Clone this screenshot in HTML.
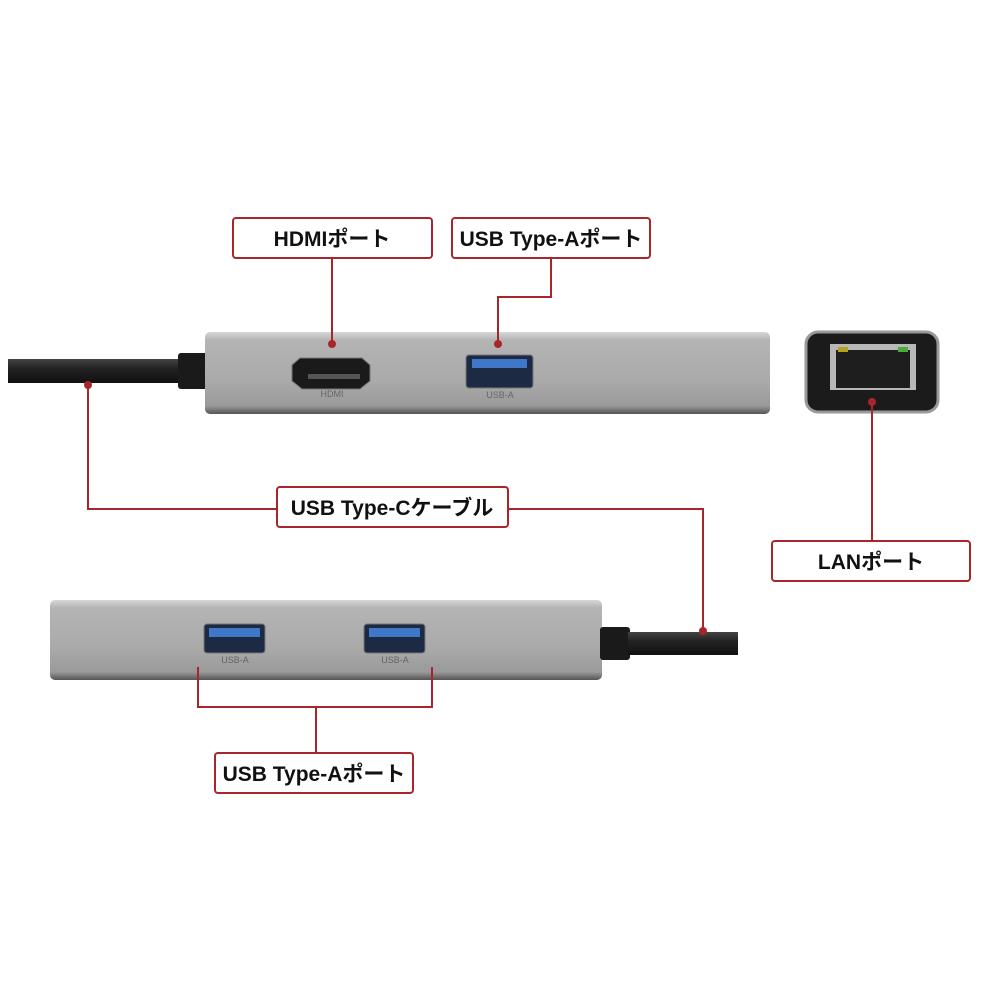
<!DOCTYPE html>
<html><head><meta charset="utf-8"><style>
html,body{margin:0;padding:0;background:#fff;width:1000px;height:1000px;overflow:hidden}
svg{display:block}
.lb{font-family:"Liberation Sans","Noto Sans CJK JP",sans-serif;font-weight:bold;font-size:21px;fill:#111}
.sm{font-family:"Liberation Sans",sans-serif;font-size:9px;fill:#666}
</style></head><body>
<svg width="1000" height="1000" viewBox="0 0 1000 1000">
<defs>
<linearGradient id="hub" x1="0" y1="0" x2="0" y2="1">
<stop offset="0" stop-color="#d6d6d6"/><stop offset="0.1" stop-color="#b4b4b4"/><stop offset="0.6" stop-color="#aaaaaa"/><stop offset="0.9" stop-color="#9a9a9a"/><stop offset="1" stop-color="#555"/>
</linearGradient>
<linearGradient id="cab" x1="0" y1="0" x2="0" y2="1">
<stop offset="0" stop-color="#444"/><stop offset="0.4" stop-color="#222"/><stop offset="1" stop-color="#111"/>
</linearGradient>
</defs>
<g fill="none" stroke="#a8262b" stroke-width="2">
<rect x="233" y="218" width="199" height="40" rx="3"/>
<rect x="452" y="218" width="198" height="40" rx="3"/>
<rect x="277" y="487" width="231" height="40" rx="3"/>
<rect x="772" y="541" width="198" height="40" rx="3"/>
<rect x="215" y="753" width="198" height="40" rx="3"/>
</g>
<text class="lb" x="332" y="246" text-anchor="middle">HDMIポート</text>
<text class="lb" x="551" y="246" text-anchor="middle">USB Type-Aポート</text>
<text class="lb" x="392" y="515" text-anchor="middle">USB Type-Cケーブル</text>
<text class="lb" x="871" y="569" text-anchor="middle">LANポート</text>
<text class="lb" x="314" y="781" text-anchor="middle">USB Type-Aポート</text>

<!-- top cable -->
<rect x="8" y="359" width="175" height="24" fill="url(#cab)"/>
<rect x="178" y="353" width="30" height="36" rx="3" fill="#1a1a1a"/>
<!-- top hub -->
<rect x="205" y="332" width="565" height="82" rx="5" fill="url(#hub)"/>
<path d="M300 358h62l8 7v16l-10 8h-58l-10-8v-16z" fill="#1a1a1a" stroke="#777"/>
<rect x="308" y="374" width="52" height="5" fill="#555"/>
<text class="sm" x="332" y="397" text-anchor="middle">HDMI</text>
<rect x="466" y="355" width="67" height="33" rx="3" fill="#1c2a44" stroke="#777"/>
<rect x="472" y="359" width="55" height="9" fill="#3f78c8"/>
<text class="sm" x="500" y="398" text-anchor="middle">USB-A</text>
<!-- LAN -->
<rect x="806" y="332" width="132" height="80" rx="12" fill="#1b1b1b" stroke="#999" stroke-width="3"/>
<rect x="830" y="344" width="86" height="46" fill="#b8b8b8"/>
<rect x="836" y="350" width="74" height="38" fill="#1e1e1e"/>
<rect x="838" y="347" width="10" height="5" fill="#b5a020"/>
<rect x="898" y="347" width="10" height="5" fill="#4caa3a"/>
<!-- bottom hub -->
<rect x="50" y="600" width="552" height="80" rx="5" fill="url(#hub)"/>
<rect x="600" y="627" width="30" height="33" rx="3" fill="#1a1a1a"/>
<rect x="628" y="632" width="110" height="23" fill="url(#cab)"/>
<rect x="204" y="624" width="61" height="29" rx="3" fill="#1c2a44" stroke="#777"/>
<rect x="209" y="628" width="51" height="9" fill="#3f78c8"/>
<text class="sm" x="235" y="663" text-anchor="middle">USB-A</text>
<rect x="364" y="624" width="61" height="29" rx="3" fill="#1c2a44" stroke="#777"/>
<rect x="369" y="628" width="51" height="9" fill="#3f78c8"/>
<text class="sm" x="395" y="663" text-anchor="middle">USB-A</text>

<!-- connectors -->
<g fill="none" stroke="#a8262b" stroke-width="2">
<path d="M332 258V343"/>
<path d="M551 258V297H498V343"/>
<path d="M88 385V509H277"/>
<path d="M508 509H703V631"/>
<path d="M872 402V541"/>
<path d="M198 667V707H432V667M316 707V753"/>
</g>
<g fill="#a8262b">
<circle cx="332" cy="344" r="4"/>
<circle cx="498" cy="344" r="4"/>
<circle cx="88" cy="385" r="4"/>
<circle cx="703" cy="631" r="4"/>
<circle cx="872" cy="402" r="4"/>
</g>
</svg>
</body></html>
